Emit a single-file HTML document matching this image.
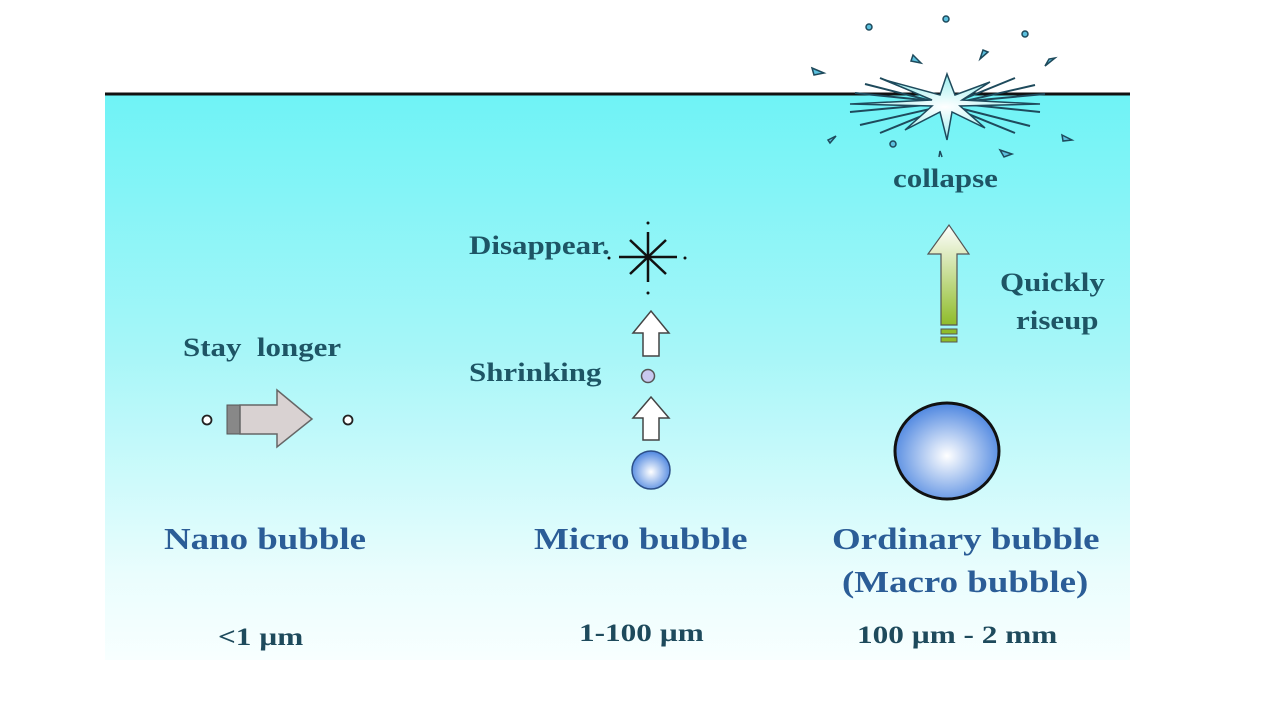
<!DOCTYPE html>
<html><head><meta charset="utf-8"><style>
body{margin:0;width:1280px;height:720px;background:#fff;overflow:hidden;position:relative;font-family:"Liberation Serif",serif;font-weight:bold}
.w{position:absolute;left:105px;top:94px;width:1025px;height:566px;background:linear-gradient(#6ff3f6 0%,#a6f6f8 45%,#eafdfd 85%,#f8ffff 100%)}
.t,.h,.s{transform-origin:0 0;transform:scaleX(1.19)}
.t{position:absolute;white-space:nowrap;color:#1e5565;font-size:26px}
.h{position:absolute;white-space:nowrap;color:#2b5d97;font-size:31px}
.s{position:absolute;white-space:nowrap;color:#1e4a5c;font-size:25px;transform:scaleX(1.25)}
</style></head><body>
<div class="w"></div>
<svg width="1280" height="720" style="position:absolute;left:0;top:0">
<defs>
<radialGradient id="b" cx="0.5" cy="0.55" r="0.55"><stop offset="0" stop-color="#fff"/><stop offset="1" stop-color="#4d86e0"/></radialGradient>
<linearGradient id="g" x1="0" y1="0" x2="0" y2="1"><stop offset="0" stop-color="#fff"/><stop offset="1" stop-color="#8fbc2a"/></linearGradient>
<radialGradient id="st" cx="0.5" cy="0.5" r="0.5"><stop offset="0" stop-color="#fff"/><stop offset="1" stop-color="#9ee"/></radialGradient>
</defs>
<line x1="105" y1="94" x2="1130" y2="94" stroke="#111" stroke-width="3"/>
<g stroke="#1e4a5c" stroke-width="2">
<line x1="855" y1="93" x2="1040" y2="112"/><line x1="850" y1="112" x2="1045" y2="94"/>
<line x1="860" y1="125" x2="1035" y2="85"/><line x1="865" y1="84" x2="1030" y2="126"/>
<line x1="880" y1="133" x2="1015" y2="78"/><line x1="880" y1="78" x2="1015" y2="133"/>
</g>
<g stroke="#1e4a5c" stroke-width="1.5" fill="url(#st)">
<polygon points="947,74 955,95 990,82 962,100 1040,104 960,106 985,128 952,112 947,140 940,112 905,130 932,106 850,104 932,100 885,80 940,95"/>
</g>
<g fill="#5bc0de" stroke="#1e4a5c" stroke-width="1.5">
<circle cx="869" cy="27" r="3"/><circle cx="946" cy="19" r="3"/><circle cx="1025" cy="34" r="3"/>
<path d="M913,55 l8,8 l-10,-2z"/><path d="M988,52 l-8,7 l3,-9z"/><path d="M1055,58 l-10,8 l4,-7z"/>
<path d="M812,68 l12,5 l-10,2z"/><path d="M828,140 l8,-4 l-6,7z"/><circle cx="893" cy="144" r="3"/>
<path d="M1000,150 l12,4 l-8,3z"/><path d="M1062,135 l10,5 l-9,1z"/>
</g>
<path d="M939,157 l1,-6 l2,6" stroke="#1e4a5c" fill="none" stroke-width="1.5"/>
<circle cx="207" cy="420" r="4.5" fill="#fff" stroke="#222" stroke-width="1.8"/>
<circle cx="348" cy="420" r="4.5" fill="#fff" stroke="#222" stroke-width="1.8"/>
<rect x="227" y="405" width="14" height="29" fill="#888" stroke="#555"/>
<polygon points="240,405 277,405 277,390 312,419 277,447 277,434 240,434" fill="#d9d2d2" stroke="#666" stroke-width="1.5"/>
<circle cx="651" cy="470" r="19" fill="url(#b)" stroke="#2c4f88" stroke-width="1.5"/>
<circle cx="648" cy="376" r="6.5" fill="#c8c8f0" stroke="#555" stroke-width="1.5"/>
<polygon points="643,440 659,440 659,418 669,418 651,397 633,418 643,418" fill="#fff" stroke="#444" stroke-width="1.5"/>
<polygon points="643,356 659,356 659,333 669,333 651,311 633,333 643,333" fill="#fff" stroke="#444" stroke-width="1.5"/>
<g stroke="#111" stroke-width="2.5"><line x1="648" y1="232" x2="648" y2="282"/><line x1="630" y1="240" x2="666" y2="274"/><line x1="666" y1="240" x2="630" y2="274"/><line x1="619" y1="257" x2="677" y2="257"/></g>
<g fill="#111"><circle cx="648" cy="223" r="1.5"/><circle cx="648" cy="293" r="1.5"/><circle cx="685" cy="258" r="1.5"/><circle cx="609" cy="258" r="1.5"/></g>
<polygon points="941,325 957,325 957,254 969,254 949,225 928,254 941,254" fill="url(#g)" stroke="#555" stroke-width="1.2"/>
<rect x="941" y="329" width="16" height="5" fill="#8fbc2a" stroke="#555" stroke-width="1"/>
<rect x="941" y="337" width="16" height="5" fill="#8fbc2a" stroke="#555" stroke-width="1"/>
<ellipse cx="947" cy="451" rx="52" ry="48" fill="url(#b)" stroke="#111" stroke-width="3"/>
</svg>
<div class="t" style="left:469px;top:231px">Disappear.</div>
<div class="t" style="left:183px;top:333px">Stay&nbsp; longer</div>
<div class="t" style="left:469px;top:358px">Shrinking</div>
<div class="t" style="left:1000px;top:268px">Quickly</div>
<div class="t" style="left:1016px;top:306px">riseup</div>
<div class="t" style="left:893px;top:164px">collapse</div>
<div class="h" style="left:164px;top:521px">Nano bubble</div>
<div class="h" style="left:534px;top:521px">Micro bubble</div>
<div class="h" style="left:832px;top:521px">Ordinary bubble</div>
<div class="h" style="left:842px;top:564px">(Macro bubble)</div>
<div class="s" style="left:218px;top:624px">&lt;1 µm</div>
<div class="s" style="left:579px;top:620px">1-100 µm</div>
<div class="s" style="left:857px;top:622px">100 µm - 2 mm</div>
</body></html>
